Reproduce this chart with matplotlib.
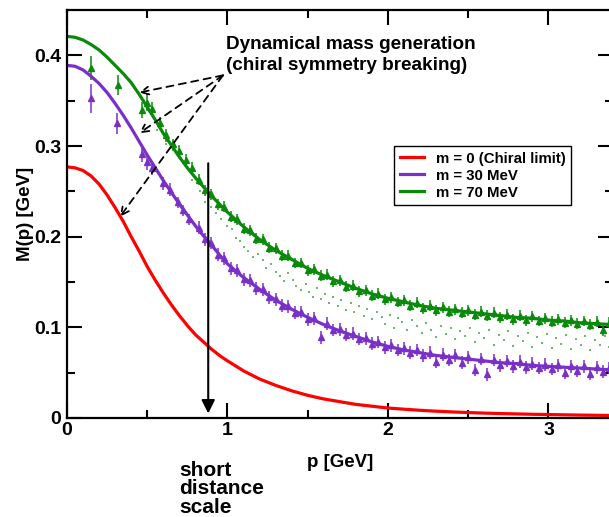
import matplotlib
matplotlib.use("Agg")
import matplotlib.pyplot as plt
import numpy as np

plt.rcParams['font.family'] = ['Liberation Sans', 'DejaVu Sans']
plt.rcParams['font.weight'] = 'bold'

# --- fitted curves M(p) ---
p_curve = [0.0, 0.05, 0.1, 0.15, 0.2, 0.25, 0.3, 0.35, 0.4, 0.45, 0.5, 0.55, 0.6, 0.65,
           0.7, 0.75, 0.8, 0.85, 0.9, 0.95, 1.0, 1.1, 1.2, 1.3, 1.4,
           1.5, 1.6, 1.7, 1.8, 1.9, 2.0, 2.1, 2.2, 2.3, 2.4, 2.5, 2.6, 2.7, 2.8, 2.9,
           3.0, 3.1, 3.2, 3.3, 3.4]
m_chiral = [0.277, 0.276, 0.273, 0.267, 0.258, 0.246, 0.232, 0.217, 0.200, 0.184, 0.167,
            0.152, 0.138, 0.125, 0.113, 0.102, 0.092, 0.084, 0.076, 0.069, 0.063,
            0.052, 0.043, 0.036, 0.030, 0.025, 0.021, 0.018, 0.015, 0.013, 0.011, 0.0097,
            0.0085, 0.0075, 0.0067, 0.0060, 0.0054, 0.0049, 0.0045, 0.0041, 0.0038, 0.0035,
            0.0032, 0.0030, 0.0028]
m_30 = [0.389, 0.388, 0.384, 0.377, 0.369, 0.359, 0.347, 0.334, 0.320, 0.305, 0.290,
        0.276, 0.262, 0.249, 0.236, 0.224, 0.212, 0.201, 0.191, 0.180, 0.170,
        0.155, 0.142, 0.130, 0.120, 0.111, 0.103, 0.096, 0.090, 0.084, 0.079, 0.075,
        0.072, 0.069, 0.067, 0.065, 0.063, 0.061, 0.060, 0.058, 0.057, 0.056, 0.055,
        0.054, 0.053]
m_70 = [0.421, 0.420, 0.417, 0.412, 0.406, 0.398, 0.389, 0.380, 0.370, 0.357, 0.343,
        0.329, 0.314, 0.301, 0.288, 0.276, 0.265, 0.255, 0.245, 0.236, 0.227,
        0.211, 0.197, 0.185, 0.175, 0.165, 0.157, 0.150, 0.143, 0.137, 0.132, 0.128,
        0.124, 0.121, 0.119, 0.117, 0.115, 0.113, 0.111, 0.110, 0.108, 0.107, 0.105,
        0.104, 0.103]

# --- lattice data, m = 30 MeV ---
p30_lo = [0.15, 0.31, 0.47, 0.50, 0.53, 0.60, 0.64, 0.69, 0.72, 0.76]
m30_lo = [0.353, 0.325, 0.291, 0.282, 0.276, 0.259, 0.252, 0.238, 0.229, 0.219]
e30_lo = [0.016, 0.012, 0.009, 0.008, 0.008, 0.007, 0.007, 0.006, 0.006, 0.006]

# --- lattice data, m = 70 MeV ---
p70_lo = [0.15, 0.32, 0.47, 0.50, 0.53, 0.58, 0.62, 0.66, 0.70, 0.74, 0.78]
m70_lo = [0.386, 0.367, 0.340, 0.348, 0.341, 0.325, 0.312, 0.302, 0.295, 0.285, 0.276]
e70_lo = [0.013, 0.011, 0.009, 0.009, 0.008, 0.007, 0.007, 0.006, 0.006, 0.006, 0.006]

# dense momenta (shared by both masses)
p_dense = [0.82, 0.86, 0.90, 0.94, 0.98, 1.02, 1.06, 1.10, 1.14, 1.18, 1.22, 1.26, 1.30,
           1.34, 1.38, 1.42, 1.46, 1.50, 1.54, 1.58, 1.62, 1.66, 1.70, 1.74, 1.78, 1.82,
           1.86, 1.90, 1.94, 1.98, 2.02, 2.06, 2.10, 2.14, 2.18, 2.22, 2.26, 2.30, 2.34,
           2.38, 2.42, 2.46, 2.50, 2.54, 2.58, 2.62, 2.66, 2.70, 2.74, 2.78, 2.82, 2.86,
           2.90, 2.94, 2.98, 3.02, 3.06, 3.10, 3.14, 3.18, 3.22, 3.26, 3.30, 3.34, 3.38]
m30_dense = [0.210, 0.197, 0.193, 0.180, 0.176, 0.165, 0.163, 0.153, 0.152, 0.143, 0.142,
             0.133, 0.131, 0.124, 0.123, 0.116, 0.117, 0.109, 0.110, 0.089, 0.104, 0.097,
             0.098, 0.092, 0.093, 0.087, 0.088, 0.082, 0.084, 0.078, 0.080, 0.075, 0.077,
             0.072, 0.075, 0.069, 0.072, 0.062, 0.070, 0.064, 0.069, 0.061, 0.067, 0.053,
             0.065, 0.048, 0.064, 0.058, 0.063, 0.057, 0.062, 0.056, 0.060, 0.055, 0.059,
             0.054, 0.058, 0.050, 0.057, 0.052, 0.057, 0.049, 0.056, 0.051, 0.055]
m70_dense = [0.263, 0.251, 0.247, 0.236, 0.233, 0.222, 0.219, 0.209, 0.207, 0.198, 0.197,
             0.188, 0.187, 0.179, 0.179, 0.171, 0.171, 0.163, 0.164, 0.157, 0.158, 0.151,
             0.152, 0.145, 0.146, 0.140, 0.141, 0.135, 0.137, 0.131, 0.133, 0.128, 0.130,
             0.124, 0.127, 0.121, 0.124, 0.119, 0.122, 0.117, 0.120, 0.116, 0.119, 0.114,
             0.117, 0.113, 0.116, 0.111, 0.114, 0.109, 0.113, 0.108, 0.112, 0.107, 0.110,
             0.106, 0.109, 0.105, 0.108, 0.104, 0.107, 0.103, 0.106, 0.097, 0.105]
err30_dense = 0.007
err70_dense = 0.006

# faint green dots (second data set)
p_dots = [0.56, 0.62, 0.66, 0.72, 0.78, 0.83, 0.86, 0.90, 0.93, 0.96, 1.00, 1.03, 1.05,
          1.08, 1.10, 1.13, 1.16, 1.19, 1.22, 1.24, 1.27, 1.30, 1.33, 1.35, 1.38, 1.41,
          1.43, 1.46, 1.49, 1.51, 1.53, 1.56, 1.58, 1.61, 1.63, 1.66, 1.69, 1.71, 1.74,
          1.77, 1.79, 1.82, 1.85, 1.87, 1.90, 1.93, 1.96, 1.98, 2.01, 2.04, 2.06, 2.09,
          2.12, 2.15, 2.18, 2.21, 2.24, 2.27, 2.30, 2.33, 2.36, 2.39, 2.42, 2.45, 2.48,
          2.51, 2.54, 2.57, 2.60, 2.63, 2.66, 2.69, 2.72, 2.75, 2.78, 2.81, 2.84, 2.87,
          2.90, 2.93, 2.96, 2.99, 3.02, 3.05, 3.08, 3.11, 3.14, 3.17, 3.20, 3.23, 3.26,
          3.29, 3.32, 3.35, 3.38]
m_dots = [0.318, 0.302, 0.296, 0.281, 0.262, 0.250, 0.238, 0.233, 0.226, 0.219, 0.212,
          0.208, 0.199, 0.195, 0.189, 0.184, 0.178, 0.181, 0.174, 0.166, 0.170, 0.161,
          0.157, 0.151, 0.160, 0.152, 0.146, 0.141, 0.148, 0.139, 0.134, 0.143, 0.131,
          0.137, 0.127, 0.133, 0.124, 0.130, 0.119, 0.127, 0.117, 0.123, 0.113, 0.120,
          0.109, 0.117, 0.111, 0.104, 0.114, 0.099, 0.110, 0.106, 0.097, 0.108, 0.101,
          0.094, 0.105, 0.097, 0.089, 0.102, 0.093, 0.099, 0.087, 0.096, 0.090, 0.099,
          0.084, 0.094, 0.088, 0.097, 0.081, 0.092, 0.086, 0.096, 0.079, 0.090, 0.085,
          0.094, 0.078, 0.089, 0.083, 0.093, 0.077, 0.088, 0.082, 0.092, 0.076, 0.087,
          0.081, 0.091, 0.075, 0.086, 0.080, 0.090, 0.078]

RED = '#ff0000'
PURPLE = '#7b2fc9'
GREEN = '#0a8a0a'

fig = plt.figure(figsize=(6.09, 5.17), dpi=100)
ax = fig.add_axes([0.110, 0.1915, 0.896, 0.789])

# faint dots
ax.plot(p_dots, m_dots, linestyle='none', marker='s', markersize=1.5,
        color=GREEN, alpha=0.6, markeredgewidth=0)

# lattice points with error bars
ax.errorbar(p30_lo + p_dense, m30_lo + m30_dense,
            yerr=e30_lo + [err30_dense] * len(p_dense),
            fmt='^', color=PURPLE, markersize=4, elinewidth=1.1, capsize=0)
ax.errorbar(p70_lo + p_dense, m70_lo + m70_dense,
            yerr=e70_lo + [err70_dense] * len(p_dense),
            fmt='^', color=GREEN, markersize=4, elinewidth=1.1, capsize=0)

# curves
ax.plot(p_curve, m_chiral, color=RED, lw=2.3, label='m = 0 (Chiral limit)',
        solid_joinstyle='round')
ax.plot(p_curve, m_30, color=PURPLE, lw=2.3, label='m = 30 MeV',
        solid_joinstyle='round')
ax.plot(p_curve, m_70, color=GREEN, lw=2.3, label='m = 70 MeV',
        solid_joinstyle='round')

ax.set_xlim(0, 3.4)
ax.set_ylim(0, 0.45)
ax.set_xticks([0, 1, 2, 3])
ax.set_xticks([0.5, 1.5, 2.5], minor=True)
ax.set_yticks([0, 0.1, 0.2, 0.3, 0.4])
ax.set_yticks([0.05, 0.15, 0.25, 0.35], minor=True)
ax.set_xticklabels(['0', '1', '2', '3'])
ax.set_yticklabels(['0', '0.1', '0.2', '0.3', '0.4'])
ax.tick_params(which='both', direction='in', top=True, right=True, width=1.5,
               labelsize=14)
ax.tick_params(which='major', length=11)
ax.tick_params(which='minor', length=5.5)
ax.tick_params(axis='x', pad=3)
ax.tick_params(axis='y', pad=4)
for s in ax.spines.values():
    s.set_linewidth(1.6)

ax.set_xlabel('p [GeV]', fontsize=13.5, fontweight='bold', labelpad=11)
ax.set_ylabel('M(p) [GeV]', fontsize=13.5, fontweight='bold', labelpad=0.5)

leg = ax.legend(loc='upper left', bbox_to_anchor=(0.599, 0.667), borderaxespad=0,
                fontsize=10.8, fancybox=False, edgecolor='black', framealpha=1,
                handlelength=1.6, labelspacing=0.2, borderpad=0.38)
leg.get_frame().set_linewidth(1.0)
for t in leg.get_texts():
    t.set_fontweight('bold')

ax.text(0.99, 0.4215, 'Dynamical mass generation\n(chiral symmetry breaking)',
        fontsize=13.6, fontweight='bold', ha='left', va='top', linespacing=1.35)

# dashed pointers
start = (0.972, 0.378)
for tip in [(0.449, 0.359), (0.449, 0.314), (0.33, 0.222)]:
    ax.annotate('', xy=tip, xytext=start,
                arrowprops=dict(arrowstyle='->', linestyle=(0, (4, 3)), lw=1.3,
                                color='black', mutation_scale=14, shrinkA=0, shrinkB=0))

# short distance scale arrow
ax.annotate('', xy=(0.88, 0.005), xytext=(0.88, 0.281),
            arrowprops=dict(arrowstyle='-|>', lw=1.5, color='black',
                            mutation_scale=20, shrinkA=0, shrinkB=0))
fig.text(0.294, 0.109, 'short\ndistance\nscale', fontsize=15, fontweight='bold',
         ha='left', va='top', linespacing=0.97)

fig.savefig('out.png', dpi=100)
